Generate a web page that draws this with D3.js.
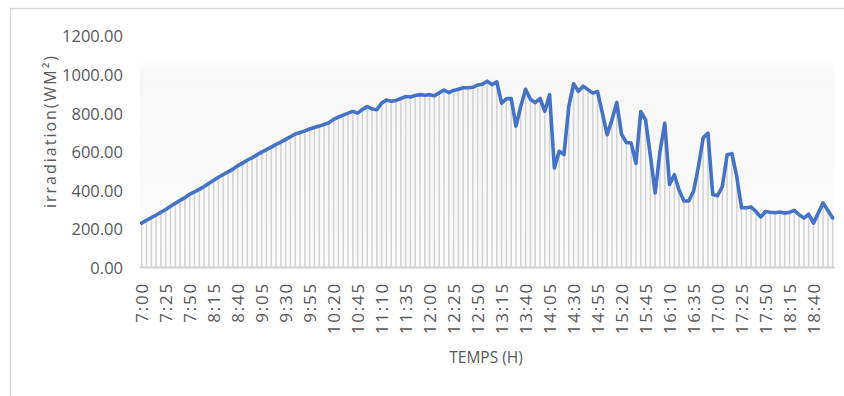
<!DOCTYPE html>
<html>
<head>
<meta charset="utf-8">
<script src="https://cdn.jsdelivr.net/npm/d3@7"></script>
<style>
  html, body { margin: 0; padding: 0; background: #ffffff; }
  svg { display: block; }
  text { font-family: "Open Sans", "Noto Sans", sans-serif; fill: #595959; }
</style>
</head>
<body>
<svg id="chart" width="844" height="396"></svg>
<script>
// Five-minute sampling from 7:00 to 19:00
const times = [];
for (let m = 7 * 60; m <= 19 * 60; m += 5) {
  times.push(Math.floor(m / 60) + ":" + String(m % 60).padStart(2, "0"));
}

// Solar irradiation (W/m²) at each sample
const irradiation = [
  230, 245, 258, 272, 286, 301, 317, 333, 348, 362,
  380, 392, 405, 420, 436, 452, 468, 482, 496, 510,
  527, 541, 556, 569, 584, 598, 611, 624, 638, 650,
  664, 678, 692, 700, 708, 718, 726, 733, 741, 750,
  768, 780, 790, 800, 809, 800, 820, 834, 822, 818,
  852, 868, 862, 866, 876, 886, 884, 892, 896, 893,
  896, 890, 905, 920, 906, 918, 924, 932, 932, 934,
  946, 950, 966, 948, 962, 852, 875, 876, 733, 836,
  924, 872, 855, 876, 810, 895, 516, 602, 586, 834,
  952, 914, 940, 922, 904, 912, 800, 688, 765, 855,
  690, 648, 645, 540, 808, 766, 580, 386, 600, 748,
  430, 481, 400, 345, 345, 395, 520, 672, 697, 378,
  372, 420, 585, 590, 472, 310, 310, 314, 290, 262,
  290, 286, 284, 288, 282, 286, 296, 274, 256, 276,
  230, 282, 335, 295, 257
];

// Axis ticks
const yTicks = [0, 200, 400, 600, 800, 1000, 1200];
const xTickLabels = times.filter((d, i) => i % 5 === 0);

const yTitle = "irradiation(WM²)";
const xTitle = "TEMPS (H)";

const svg = d3.select("#chart");

const plot = { left: 141.7, right: 832.7, top: 36, bottom: 267.5 };

const x = d3.scalePoint().domain(times).range([plot.left, plot.right]);
const y = d3.scaleLinear().domain([0, 1200]).range([plot.bottom, plot.top]);

// Chart frame
svg.append("rect")
  .attr("x", 10.5).attr("y", 8.5)
  .attr("width", 850).attr("height", 400)
  .attr("fill", "#ffffff")
  .attr("stroke", "#d9d9d9").attr("stroke-width", 1.5);

// Very soft plot-area shading
const grad = svg.append("defs").append("linearGradient")
  .attr("id", "plotShade").attr("x1", 0).attr("y1", 0).attr("x2", 0).attr("y2", 1);
grad.append("stop").attr("offset", "0%").attr("stop-color", "#ffffff");
grad.append("stop").attr("offset", "8%").attr("stop-color", "#f7f7f7");
grad.append("stop").attr("offset", "100%").attr("stop-color", "#fcfcfc");

svg.append("rect")
  .attr("x", plot.left - 2).attr("y", y(1080))
  .attr("width", plot.right - plot.left + 4)
  .attr("height", plot.bottom - y(1080))
  .attr("fill", "url(#plotShade)");

// Drop lines from each point to the category axis
svg.append("g")
  .selectAll("line")
  .data(irradiation)
  .join("line")
  .attr("x1", (d, i) => x(times[i]))
  .attr("x2", (d, i) => x(times[i]))
  .attr("y1", d => y(d))
  .attr("y2", y(0))
  .attr("stroke", "#d4d4d4")
  .attr("stroke-width", 1.6);

// Category axis
const xAxis = svg.append("g")
  .attr("transform", `translate(0,${y(0)})`)
  .call(d3.axisBottom(x).tickValues(xTickLabels).tickSize(0).tickPadding(0));
xAxis.select(".domain")
  .attr("stroke", "#d0d0d0").attr("stroke-width", 2)
  .attr("d", `M${plot.left - 2},0H${plot.right + 2}`);
xAxis.selectAll(".tick text")
  .attr("transform", "rotate(-90)")
  .attr("x", -14.5)
  .attr("y", 0)
  .attr("dy", "0.36em")
  .attr("text-anchor", "end")
  .style("font-size", "17px")
  .style("letter-spacing", "1.8px")
  .style("fill", "#595959");

// Value axis labels
const yAxis = svg.append("g")
  .attr("transform", "translate(123,0)")
  .call(d3.axisLeft(y).tickValues(yTicks).tickFormat(d3.format(".2f")).tickSize(0).tickPadding(0));
yAxis.select(".domain").remove();
yAxis.selectAll(".tick text")
  .attr("dy", "0.36em")
  .style("font-size", "16.5px")
  .style("fill", "#595959");

// Irradiation curve
const line = d3.line()
  .x((d, i) => x(times[i]))
  .y(d => y(d));

svg.append("path")
  .datum(irradiation)
  .attr("d", line)
  .attr("fill", "none")
  .attr("stroke", "#4472c4")
  .attr("stroke-width", 3.6)
  .attr("stroke-linejoin", "round")
  .attr("stroke-linecap", "round");

// Axis titles
svg.append("text")
  .attr("transform", "translate(56,131) rotate(-90)")
  .attr("text-anchor", "middle")
  .style("font-size", "16px")
  .style("letter-spacing", "2px")
  .text(yTitle);

svg.append("text")
  .attr("x", 486).attr("y", 362.5)
  .attr("text-anchor", "middle")
  .style("font-size", "15.5px")
  .text(xTitle);
</script>
</body>
</html>
